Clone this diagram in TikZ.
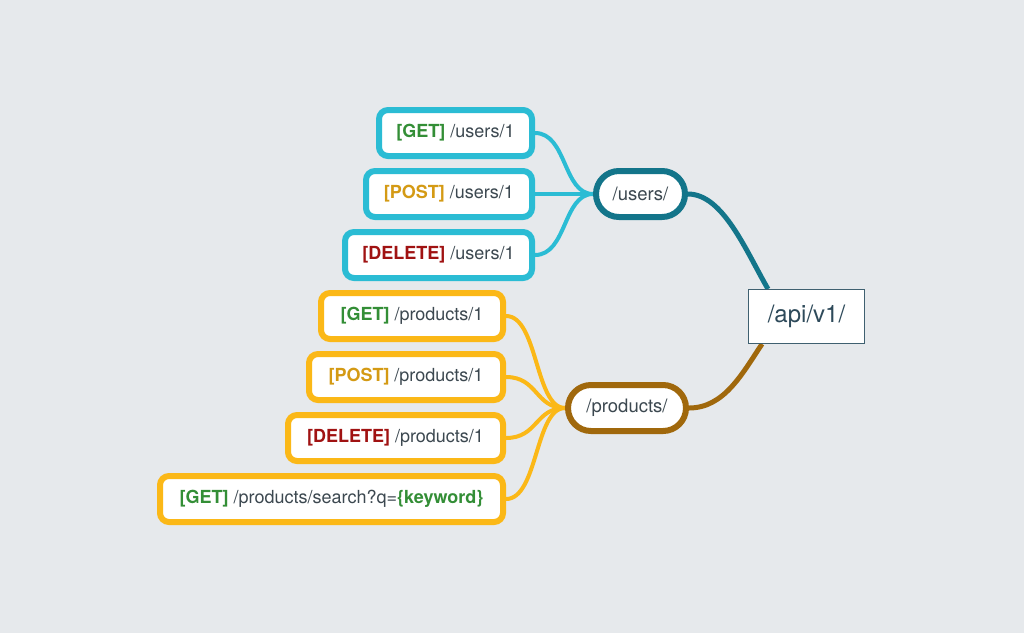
\documentclass[tikz,border=0pt]{standalone}
\usepackage{fontspec}
\setmainfont{TeX Gyre Heros}
\usetikzlibrary{calc}
\pgfdeclarelayer{bglayer}
\pgfdeclarelayer{edgelayer}
\pgfsetlayers{bglayer,edgelayer,main}
\definecolor{bgc}{HTML}{E6E9EC}
\definecolor{txt}{HTML}{3C4850}
\definecolor{apitxt}{HTML}{2E4A5A}
\definecolor{apiline}{HTML}{3F6070}
\definecolor{usersc}{HTML}{13758A}
\definecolor{leafu}{HTML}{2BBCD4}
\definecolor{prodc}{HTML}{A0680C}
\definecolor{leafp}{HTML}{FBB817}
\definecolor{getc}{HTML}{338E36}
\definecolor{postc}{HTML}{D49A14}
\definecolor{delc}{HTML}{A01212}
\newcommand{\mGET}{{\bfseries\color{getc}[GET]}}
\newcommand{\mPOST}{{\bfseries\color{postc}[POST]}}
\newcommand{\mDEL}{{\bfseries\color{delc}[DELETE]}}
\begin{document}
\begin{tikzpicture}[x=1pt,y=1pt,
  base/.style={fill=white, inner sep=0pt, text=txt, font=\fontsize{18}{21}\selectfont, minimum height=46pt},
  uleaf/.style={base, draw=leafu, line width=6pt, rounded corners=9pt},
  pleaf/.style={base, draw=leafp, line width=6pt, rounded corners=9pt},
  unode/.style={base, draw=usersc, line width=6pt, rounded corners=23pt, font=\fontsize{18.5}{21}\selectfont},
  pnode/.style={base, draw=prodc, line width=6pt, rounded corners=23pt, font=\fontsize{18.5}{21}\selectfont},
  apinode/.style={fill=white, draw=apiline, line width=1pt, inner sep=0pt, text=apitxt,
     font=\fontsize{24}{28}\selectfont, minimum width=116pt, minimum height=54pt},
  ulink/.style={draw=leafu, line width=4pt},
  plink/.style={draw=leafp, line width=4pt},
  umain/.style={draw=usersc, line width=5pt},
  pmain/.style={draw=prodc, line width=5pt}]
\begin{pgfonlayer}{bglayer}
\fill[bgc] (0,0) rectangle (1024,-633);
\end{pgfonlayer}
\useasboundingbox (0,0) rectangle (1024,-633);

\node[apinode] (api) at (806.5,-316.5) {/api/v1/};
\node[unode, minimum width=89pt] (users) at (640.5,-194) {/users/};
\node[pnode, minimum width=118pt] (products) at (627,-408) {/products/};

\node[uleaf, minimum width=153pt] (ug) at (455.5,-133) {\mGET\ /users/1};
\node[uleaf, minimum width=166pt] (up) at (449,-194) {\mPOST\ /users/1};
\node[uleaf, minimum width=187pt] (ud) at (438.5,-255) {\mDEL\ /users/1};

\node[pleaf, minimum width=182pt] (pg) at (412,-316) {\mGET\ /products/1};
\node[pleaf, minimum width=194pt] (pp) at (406,-377) {\mPOST\ /products/1};
\node[pleaf, minimum width=215pt] (pd) at (395.5,-438) {\mDEL\ /products/1};
\node[pleaf, minimum width=343pt] (ps) at (331.5,-499) {\mGET\ /products/search?q={\bfseries\color{getc}\{keyword\}}};

\coordinate (uend) at ($(api.north west)+(20,0)$);
\coordinate (pend) at ($(api.south west)+(14,0)$);

\begin{pgfonlayer}{edgelayer}
\foreach \n in {ug,up,ud}{
  \path[ulink] (\n.east) .. controls ($(\n.east)+(32,0)$) and ($(users.west)+(-30,0)$) .. (users.west);
}
\foreach \n in {pg,pp,pd,ps}{
  \path[plink] (\n.east) .. controls ($(\n.east)+(32,0)$) and ($(products.west)+(-30,0)$) .. (products.west);
}
\path[umain] (users.east) .. controls ($(users.east)+(35,0)$) and ($(uend)+(-22,38)$) .. (uend);
\path[pmain] (products.east) .. controls ($(products.east)+(35,0)$) and ($(pend)+(-20,-30)$) .. (pend);
\end{pgfonlayer}
\end{tikzpicture}
\end{document}
